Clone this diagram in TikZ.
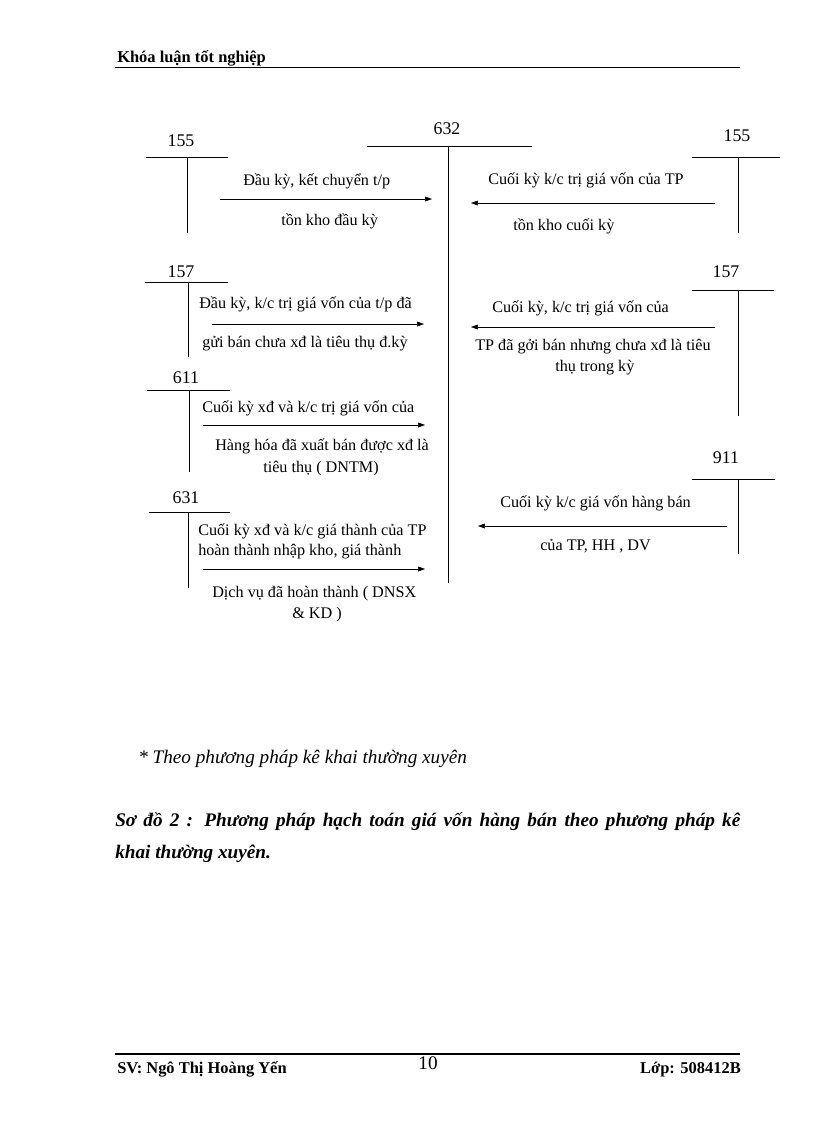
\documentclass[tikz,border=0pt]{standalone}
\usepackage{fontspec}
\setmainfont{Liberation Serif}
\usetikzlibrary{arrows.meta, positioning}

\begin{document}
\begin{tikzpicture}[x=0.7295pt, y=-0.7295pt,
    acc/.style={anchor=base, inner sep=0pt, font=\fontsize{13}{15}\selectfont},
    note/.style={anchor=base west, inner sep=0pt, font=\fontsize{11.8}{14}\selectfont},
    flow/.style={-{Triangle[length=5pt, width=3.5pt]}, thin}]

        \useasboundingbox (0,0) rectangle (816,1123);

        % Header and footer
        \node[anchor=base west, inner sep=0pt, font=\bfseries\fontsize{12}{14}\selectfont] (head) at (117,62) {Khóa luận tốt nghiệp};
        \draw (115,67) -- (740,67);
        \draw[line width=1.5pt] (115,1054) -- (740,1054);
        \node[anchor=base west, inner sep=0pt, font=\bfseries\fontsize{12}{14}\selectfont] (student) at (117,1073) {SV: Ngô Thị Hoàng Yến};
        \node[anchor=base, inner sep=0pt, font=\fontsize{14}{16}\selectfont] (page) at (428,1069) {10};
        \node[anchor=base east, inner sep=0pt, font=\bfseries\fontsize{12}{14}\selectfont] (class) at (741,1073) {Lớp: 508412B};

        % Account 632
        \node[acc] (m632) at (447,134) {632};
        \draw (367,146) -- (532,146);
        \draw (448,146) -- (448,583);

        % T-accounts: name/label/label x/label y/line y/left/right/stem x/stem end
        \foreach \nm/\num/\lx/\ly/\hy/\a/\b/\vx/\ve in {
            l155/155/181/146/157/146/228/187/233,
            l157/157/181/277/282/145/228/188/357,
            l611/611/186/383/390/147/230/189/472,
            l631/631/186/503/512/149/230/188/588,
            r155/155/737/141/157/692/780/738/233,
            r157/157/726/277/290/692/774/738/416,
            r911/911/726/463/479/692/775/738/554}
        {
          \node[acc] (\nm) at (\lx,\ly) {\num};
          \draw (\a,\hy) -- (\b,\hy);
          \draw (\vx,\hy) -- (\vx,\ve);
        }

        % Arrow ends
        \coordinate (s1) at (220,199);  \coordinate (e1) at (432,199);
        \coordinate (s2) at (212,324);  \coordinate (e2) at (424,324);
        \coordinate (s3) at (203,425);  \coordinate (e3) at (425,425);
        \coordinate (s4) at (203,569);  \coordinate (e4) at (425,569);
        \coordinate (s5) at (715,203);  \coordinate (e5) at (471,203);
        \coordinate (s6) at (715,327);  \coordinate (e6) at (471,327);
        \coordinate (s7) at (727,526);  \coordinate (e7) at (478,526);

        \foreach \i in {1,...,7}
          \draw[flow] (s\i) -- (e\i);

        % Left side texts
        \node[note] (t1a) at (243,185) {Đầu kỳ, kết chuyển  t/p};
        \node[note] (t1b) at (281,225) {tồn kho đầu kỳ};
        \node[note] (t2a) at (199,308) {Đầu kỳ, k/c trị giá vốn của t/p đã};
        \node[note] (t2b) at (202,347) {gửi bán chưa xđ là tiêu thụ đ.kỳ};
        \node[note] (t3a) at (202,412) {Cuối kỳ xđ và k/c trị giá vốn của};
        \node[note] (t3b) at (215,450) {Hàng hóa đã xuất bán được xđ là};
        \node[note] (t3c) at (263,472) {tiêu thụ ( DNTM)};
        \node[note] (t4a) at (198,535) {Cuối kỳ xđ và k/c giá thành  của TP};
        \node[note] (t4b) at (198,555) {hoàn thành  nhập kho, giá thành};
        \node[note] (t4c) at (212,597) {Dịch vụ đã hoàn thành  ( DNSX};
        \node[note] (t4d) at (292,618) {\& KD )};

        % Right side texts
        \node[note] (t5a) at (488,184) {Cuối kỳ k/c trị giá vốn của TP};
        \node[note] (t5b) at (513,230) {tồn kho cuối kỳ};
        \node[note] (t6a) at (492,312) {Cuối kỳ, k/c trị giá vốn của};
        \node[note] (t6b) at (475,350) {TP đã gởi bán nhưng chưa xđ là tiêu};
        \node[note] (t6c) at (555,371) {thụ trong kỳ};
        \node[note] (t7a) at (500,507) {Cuối kỳ k/c giá vốn hàng bán};
        \node[note] (t7b) at (540,550) {của TP, HH , DV};

        % Captions
        \node[anchor=base west, inner sep=0pt, font=\itshape\fontsize{14}{16}\selectfont] (method) at (138,763) {* Theo phương pháp kê khai thường xuyên};
        \node[anchor=base west, inner sep=0pt, font=\bfseries\itshape\fontsize{14}{16}\selectfont] (cap1) at (115,826) {\makebox[456pt][s]{Sơ đồ 2 : Phương pháp hạch toán giá vốn hàng bán theo phương pháp kê}};
        \node[anchor=base west, inner sep=0pt, font=\bfseries\itshape\fontsize{14}{16}\selectfont] (cap2) at (115,858) {khai thường xuyên.};
      \end{tikzpicture}
\end{document}
